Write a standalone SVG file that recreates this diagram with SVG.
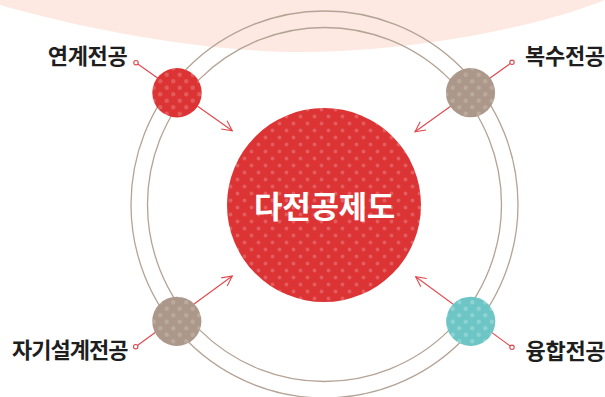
<svg xmlns="http://www.w3.org/2000/svg" width="605" height="397" viewBox="0 0 605 397">
<style>
.ring{fill:none;stroke:#b4a396;stroke-width:1.3}
.conn{fill:none;stroke:#e0474c;stroke-width:1.1}
.lbl{font-family:"Noto Sans CJK KR","Noto Sans",sans-serif;font-weight:700;font-size:22px;fill:#1e1e1e;letter-spacing:-0.3px}
.end{text-anchor:end}
.title{font-family:"Noto Sans CJK KR","Noto Sans",sans-serif;font-weight:700;font-size:31px;fill:#ffffff;text-anchor:middle;letter-spacing:-0.3px}
</style>
<defs>
<pattern id="dRed" width="14" height="14" patternUnits="userSpaceOnUse" x="3" y="1">
<rect width="14" height="14" fill="#dc3435"/>
<circle cx="3.5" cy="3.5" r="1.9" fill="#e45c5d"/>
<circle cx="10.5" cy="10.5" r="1.9" fill="#e45c5d"/>
</pattern>
<pattern id="dRed2" width="13" height="13" patternUnits="userSpaceOnUse" x="1" y="0">
<rect width="13" height="13" fill="#dc3435"/>
<circle cx="3.25" cy="3.25" r="2.2" fill="#e35a5b"/>
<circle cx="9.75" cy="9.75" r="2.2" fill="#e35a5b"/>
</pattern>
<pattern id="dTan" width="13" height="13" patternUnits="userSpaceOnUse" x="1" y="0">
<rect width="13" height="13" fill="#ab988a"/>
<circle cx="3.25" cy="3.25" r="2.2" fill="#bba99c"/>
<circle cx="9.75" cy="9.75" r="2.2" fill="#bba99c"/>
</pattern>
<pattern id="dTeal" width="13" height="13" patternUnits="userSpaceOnUse" x="1" y="0">
<rect width="13" height="13" fill="#6ec5c5"/>
<circle cx="3.25" cy="3.25" r="2.2" fill="#8ed3d3"/>
<circle cx="9.75" cy="9.75" r="2.2" fill="#8ed3d3"/>
</pattern>
<marker id="arr" viewBox="0 0 12 12" refX="11" refY="6" markerWidth="12" markerHeight="12" markerUnits="userSpaceOnUse" orient="auto">
<path d="M1,1 L11,6 L1,11" fill="none" stroke="#e0474c" stroke-width="1.1"/>
</marker>
<marker id="dot" viewBox="0 0 8 8" refX="4" refY="4" markerWidth="8" markerHeight="8" markerUnits="userSpaceOnUse">
<circle cx="4" cy="4" r="2.2" fill="#fff" stroke="#e0474c" stroke-width="1.1"/>
</marker>
</defs>
<rect width="605" height="397" fill="#ffffff"/>
<path id="bg" d="M0,0 L0,5 C80,28 200,52 302,52 C404,52 530,30 605,0 Z" fill="#fde9e1"/>
<g id="rings">
<circle class="ring" cx="324.5" cy="204.5" r="193.5"/>
<circle class="ring" cx="324.5" cy="204.5" r="177"/>
</g>
<g id="connectors">
<line class="conn" x1="136" y1="62.7" x2="232.3" y2="130.7" marker-start="url(#dot)" marker-end="url(#arr)"/>
<line class="conn" x1="512" y1="62.3" x2="415" y2="131.7" marker-start="url(#dot)" marker-end="url(#arr)"/>
<line class="conn" x1="135.7" y1="346.7" x2="232.3" y2="276" marker-start="url(#dot)" marker-end="url(#arr)"/>
<line class="conn" x1="512" y1="347.3" x2="415.7" y2="276.7" marker-start="url(#dot)" marker-end="url(#arr)"/>
</g>
<g id="center">
<circle cx="324" cy="205" r="97" fill="url(#dRed)"/>
<text class="title" x="324.5" y="218">다전공제도</text>
</g>
<g id="n-linked">
<circle cx="177" cy="92.8" r="24.7" fill="url(#dRed2)"/>
<text class="lbl end" x="127.5" y="63.5">연계전공</text>
</g>
<g id="n-double">
<circle cx="470.5" cy="92.7" r="24.6" fill="url(#dTan)"/>
<text class="lbl" x="525" y="64">복수전공</text>
</g>
<g id="n-self">
<circle cx="176.8" cy="321.3" r="24.6" fill="url(#dTan)"/>
<text class="lbl end" x="127.5" y="358.3" style="letter-spacing:-1px">자기설계전공</text>
</g>
<g id="n-fusion">
<circle cx="470.7" cy="321.3" r="24.6" fill="url(#dTeal)"/>
<text class="lbl" x="525.5" y="359">융합전공</text>
</g>
</svg>
